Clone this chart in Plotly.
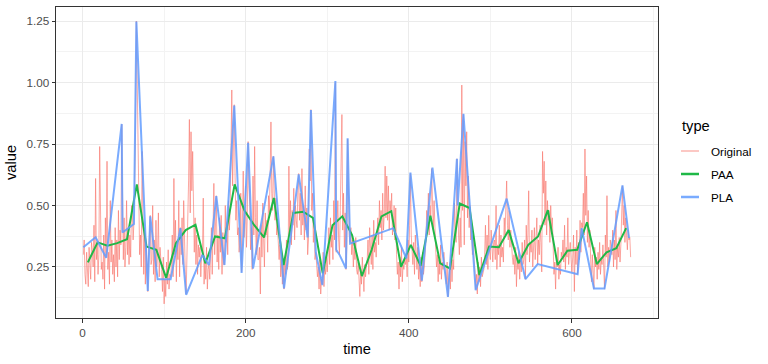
import plotly.graph_objects as go

# ---------------- data ----------------
original = [
 0.30,0.36,0.22,0.18,0.31,0.24,0.17,0.33,0.26,0.20,0.35,0.32,
 0.25,0.42,0.19,0.61,0.28,0.35,0.22,0.30,0.74,0.33,0.24,0.27,
 0.20,0.38,0.16,0.45,0.29,0.68,0.24,0.31,0.18,0.52,0.27,0.36,
 0.22,0.30,0.19,0.41,0.25,0.36,0.21,0.48,0.28,0.40,0.34,0.83,
 0.39,0.28,0.45,0.25,0.33,0.52,0.30,0.41,0.26,0.38,0.29,0.50,
 0.48,0.36,0.43,0.62,0.80,1.25,0.99,0.72,0.45,0.30,0.38,0.25,
 0.72,0.30,0.22,0.41,0.18,0.35,0.26,0.15,0.31,0.38,0.46,0.26,
 0.28,0.50,0.22,0.36,0.19,0.44,0.25,0.31,0.47,0.21,0.33,0.28,
 0.24,0.15,0.29,0.10,0.20,0.13,0.27,0.18,0.32,0.16,0.22,0.21,
 0.26,0.38,0.21,0.61,0.30,0.44,0.19,0.35,0.28,0.52,0.21,0.41,
 0.30,0.45,0.26,0.52,0.33,0.22,0.14,0.28,0.38,0.60,0.85,0.47,
 0.80,0.56,0.72,0.40,0.31,0.45,0.26,0.38,0.22,0.34,0.29,0.33,
 0.21,0.30,0.30,0.53,0.18,0.27,0.20,0.33,0.16,0.24,0.26,0.20,
 0.29,0.41,0.22,0.35,0.59,0.30,0.45,0.54,0.27,0.38,0.24,0.45,
 0.31,0.46,0.22,0.39,0.26,0.26,0.50,0.35,0.43,0.30,0.52,0.40,
 0.48,0.66,0.97,0.58,0.75,0.91,0.62,0.44,0.52,0.38,0.41,0.31,
 0.36,0.55,0.23,0.48,0.64,0.37,0.42,0.58,0.33,0.46,0.76,0.58,
 0.50,0.32,0.41,0.24,0.62,0.38,0.74,0.45,0.30,0.52,0.28,0.28,
 0.33,0.14,0.42,0.29,0.51,0.36,0.25,0.47,0.38,0.44,0.31,0.54,
 0.47,0.62,0.84,0.55,0.48,0.70,0.61,0.44,0.53,0.38,0.42,0.33,
 0.28,0.34,0.21,0.30,0.18,0.26,0.16,0.29,0.22,0.36,0.24,0.26,
 0.66,0.38,0.52,0.34,0.48,0.42,0.57,0.36,0.50,0.44,0.41,0.56,
 0.63,0.44,0.55,0.38,0.65,0.42,0.50,0.36,0.58,0.40,0.49,0.30,
 0.36,0.73,0.60,0.89,0.48,0.55,0.35,0.42,0.28,0.31,0.22,0.21,
 0.25,0.16,0.28,0.14,0.20,0.18,0.31,0.17,0.26,0.22,0.29,0.23,
 0.30,0.41,0.26,0.45,0.33,0.38,0.28,0.52,0.36,1.00,0.31,0.44,
 0.52,0.36,0.30,0.48,0.62,0.87,0.40,0.55,0.33,0.47,0.24,0.33,
 0.77,0.52,0.38,0.35,0.41,0.30,0.36,0.25,0.33,0.28,0.37,0.24,
 0.22,0.27,0.16,0.13,0.24,0.18,0.29,0.20,0.15,0.26,0.21,0.25,
 0.28,0.36,0.22,0.41,0.30,0.26,0.38,0.24,0.44,0.31,0.35,0.29,
 0.38,0.45,0.34,0.52,0.41,0.48,0.36,0.55,0.40,0.47,0.66,0.45,
 0.62,0.44,0.58,0.40,0.52,0.47,0.55,0.38,0.41,0.50,0.36,0.49,
 0.30,0.22,0.27,0.16,0.29,0.21,0.33,0.19,0.26,0.24,0.28,0.26,
 0.29,0.21,0.36,0.27,0.42,0.63,0.38,0.31,0.26,0.35,0.22,0.38,
 0.30,0.24,0.33,0.20,0.27,0.17,0.29,0.19,0.31,0.22,0.25,0.29,
 0.36,0.48,0.41,0.55,0.38,0.50,0.44,0.65,0.47,0.40,0.52,0.35,
 0.32,0.25,0.30,0.19,0.28,0.22,0.34,0.20,0.27,0.24,0.31,0.26,
 0.22,0.18,0.27,0.13,0.20,0.25,0.16,0.30,0.19,0.28,0.24,0.51,
 0.42,0.35,0.69,0.50,0.38,0.30,0.45,0.33,0.99,0.48,0.87,0.34,
 0.76,0.58,0.80,0.45,0.62,0.41,0.50,0.36,0.44,0.30,0.38,0.28,
 0.24,0.16,0.22,0.14,0.27,0.19,0.25,0.17,0.29,0.21,0.23,0.24,
 0.30,0.42,0.26,0.38,0.24,0.46,0.31,0.28,0.40,0.33,0.27,0.35,
 0.36,0.28,0.50,0.24,0.34,0.30,0.42,0.25,0.38,0.29,0.33,0.27,
 0.45,0.38,0.53,0.60,0.42,0.36,0.48,0.33,0.40,0.30,0.29,0.26,
 0.30,0.22,0.33,0.17,0.28,0.24,0.31,0.20,0.29,0.23,0.35,0.26,
 0.28,0.36,0.20,0.42,0.30,0.38,0.56,0.27,0.35,0.31,0.40,0.25,
 0.33,0.41,0.28,0.38,0.45,0.26,0.36,0.30,0.42,0.35,0.23,0.72,
 0.55,0.68,0.42,0.60,0.38,0.52,0.44,0.48,0.35,0.50,0.40,0.45,
 0.30,0.22,0.27,0.16,0.29,0.25,0.33,0.20,0.26,0.22,0.31,0.29,
 0.36,0.27,0.42,0.24,0.33,0.29,0.45,0.26,0.31,0.35,0.28,0.23,
 0.29,0.38,0.15,0.33,0.26,0.40,0.22,0.35,0.28,0.44,0.31,0.43,
 0.41,0.55,0.38,0.73,0.46,0.62,0.35,0.48,0.33,0.40,0.28,0.19,
 0.30,0.21,0.16,0.33,0.25,0.29,0.20,0.31,0.24,0.35,0.22,0.28,
 0.26,0.34,0.22,0.16,0.38,0.29,0.54,0.25,0.33,0.27,0.36,0.31,
 0.30,0.40,0.25,0.36,0.28,0.48,0.24,0.33,0.29,0.37,0.27,0.34,
 0.48,0.58,0.42,0.50,0.35,0.45,0.38,0.32,0.40,0.36,0.37,0.29,
]
time = list(range(1, len(original) + 1))

paa_time = [6.5 + 12 * k for k in range(56)]
paa_value = [
 0.269,0.350,0.337,0.347,0.363,0.586,0.333,0.320,0.206,0.347,0.400,0.422,
 0.265,0.374,0.367,0.586,0.480,0.420,0.370,0.531,0.258,0.470,0.475,0.450,
 0.224,0.420,0.456,0.380,0.213,0.320,0.456,0.477,0.251,0.340,0.255,0.459,
 0.265,0.244,0.508,0.490,0.217,0.333,0.330,0.400,0.265,0.340,0.374,0.481,
 0.258,0.316,0.320,0.432,0.262,0.310,0.326,0.408,
]

pla_time = [1, 16, 29, 48, 49, 63, 66, 80, 83, 92, 108, 120, 127, 147, 155,
            164, 174, 186, 195, 203, 209, 234, 247, 265, 276, 280, 286, 294,
            310, 311, 315, 323, 325, 328, 381, 397, 402, 416, 429, 448, 459,
            460, 467, 482, 520, 543, 558, 607, 612, 627, 640, 662, 670]
pla_value = [0.330, 0.371, 0.287, 0.832, 0.390, 0.425, 1.248, 0.152, 0.456,
             0.200, 0.200, 0.408, 0.137, 0.299, 0.258, 0.538, 0.258, 0.907,
             0.226, 0.755, 0.244, 0.700, 0.163, 0.627, 0.370, 0.888, 0.310,
             0.176, 1.006, 0.320, 0.300, 0.244, 0.774, 0.345, 0.408, 0.285,
             0.634, 0.194, 0.654, 0.128, 0.690, 0.500, 0.873, 0.156, 0.528,
             0.201, 0.262, 0.221, 0.408, 0.163, 0.163, 0.582, 0.367]

series_names = ["Original", "PAA", "PLA"]
series_colors = ["rgba(248,118,109,0.8)", "#1FB847", "rgba(97,156,255,0.85)"]
x_ticks = [0, 200, 400, 600]
y_ticks = [0.25, 0.50, 0.75, 1.00, 1.25]
y_ticklabels = ["0.25", "0.50", "0.75", "1.00", "1.25"]

# ---------------- figure ----------------
W, H = 768, 364
L, R, T, B = 56, 110, 7, 46
pw, ph = W - L - R, H - T - B

fig = go.Figure()
fig.add_trace(go.Scatter(x=time, y=original, mode="lines", name=series_names[0],
                         line=dict(color=series_colors[0], width=0.8), showlegend=False))
fig.add_trace(go.Scatter(x=paa_time, y=paa_value, mode="lines", name=series_names[1],
                         line=dict(color=series_colors[1], width=2), showlegend=False))
fig.add_trace(go.Scatter(x=pla_time, y=pla_value, mode="lines", name=series_names[2],
                         line=dict(color=series_colors[2], width=2), showlegend=False))

xmin, xmax = min(time), max(time)
allv = original + paa_value + pla_value
ymin, ymax = min(allv), max(allv)
xr = xmax - xmin
yr = ymax - ymin

axis_common = dict(
    showline=True, mirror=True, linecolor="#333333", linewidth=1,
    ticks="outside", ticklen=3.5, tickcolor="#333333", tickwidth=1,
    gridcolor="#EBEBEB", gridwidth=1, zeroline=False,
    tickfont=dict(family="Liberation Sans, Arial, sans-serif", size=11.7, color="#4D4D4D"),
)

fig.update_layout(
    width=W, height=H,
    margin=dict(l=L, r=R, t=T, b=B, pad=0),
    paper_bgcolor="white", plot_bgcolor="white",
    font=dict(family="Liberation Sans, Arial, sans-serif"),
    xaxis=dict(range=[xmin - 0.05 * xr, xmax + 0.05 * xr], tickvals=x_ticks,
               ticktext=[str(v) for v in x_ticks],
               minor=dict(dtick=100, tick0=0, showgrid=True, gridcolor="#F3F3F3", gridwidth=0.6, ticks=""),
               title=dict(text="time", font=dict(size=14.7, color="black"), standoff=6),
               **axis_common),
    yaxis=dict(range=[ymin - 0.05 * yr, ymax + 0.05 * yr], tickvals=y_ticks,
               ticktext=y_ticklabels,
               minor=dict(dtick=0.25, tick0=0.125, showgrid=True, gridcolor="#F3F3F3", gridwidth=0.6, ticks=""),
               title=dict(text="value", font=dict(size=14.7, color="black"), standoff=6),
               **axis_common),
    showlegend=False,
)

# manual ggplot-style legend
def px_to_paper_x(px):
    return (px - L) / pw

def py_to_paper_y(py):
    return (H - B - py) / ph

fig.add_annotation(x=px_to_paper_x(680), y=py_to_paper_y(126), xref="paper", yref="paper",
                   text="type", showarrow=False, xanchor="left", yanchor="middle",
                   font=dict(size=14.7, color="black"))
legend_y = [151, 174, 197]
for name, col, ly, w in zip(series_names, series_colors, legend_y, [1, 2.5, 2.5]):
    fig.add_shape(type="line", xref="paper", yref="paper",
                  x0=px_to_paper_x(681), x1=px_to_paper_x(699),
                  y0=py_to_paper_y(ly), y1=py_to_paper_y(ly),
                  line=dict(color=col, width=w))
    fig.add_annotation(x=px_to_paper_x(709), y=py_to_paper_y(ly), xref="paper", yref="paper",
                       text=name, showarrow=False, xanchor="left", yanchor="middle",
                       font=dict(size=11.7, color="black"))

fig.write_html("out.html")
